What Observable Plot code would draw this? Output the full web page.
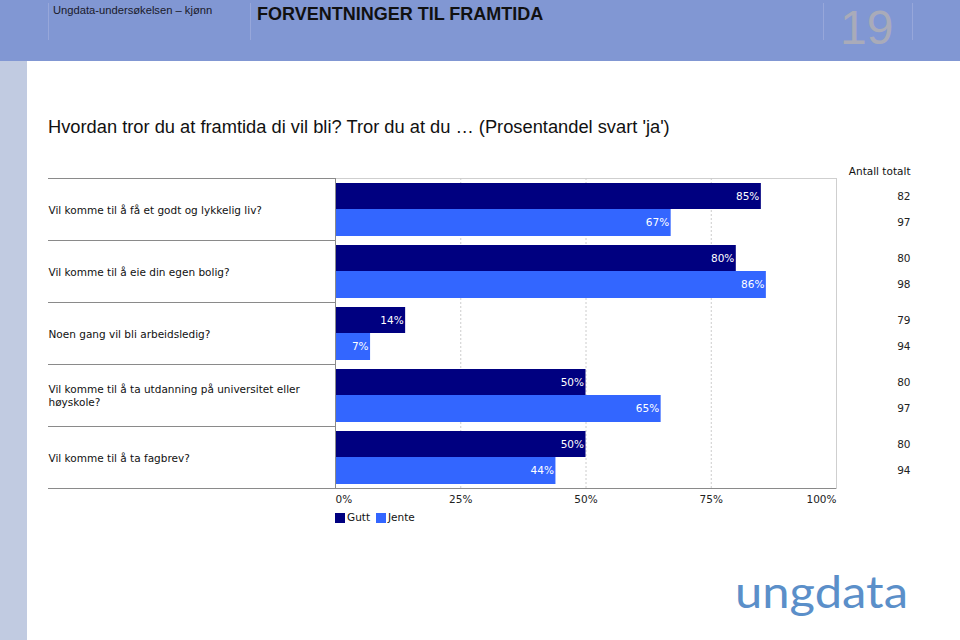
<!DOCTYPE html>
<html>
<head>
<meta charset="utf-8">
<script src="https://cdn.jsdelivr.net/npm/d3@7"></script>
<script src="https://cdn.jsdelivr.net/npm/@observablehq/plot@0.6"></script>
<style>
  html, body { margin: 0; padding: 0; background: #fff; }
  #page { position: relative; width: 960px; height: 640px; overflow: hidden; background: #fff; font-family: "Liberation Sans", Arial, sans-serif; }
  .abs { position: absolute; white-space: nowrap; }
  #header { position: absolute; left: 0; top: 0; width: 960px; height: 61px; background: #8197d3; }
  #strip { position: absolute; left: 0; top: 61px; width: 27px; height: 579px; background: #c1cbe1; }
  .vline { position: absolute; top: 3px; width: 1px; height: 37px; background: #97a7da; }
  #chart { position: absolute; left: 0; top: 140px; }
  .leg { font-family: "DejaVu Sans", Verdana, sans-serif; font-size: 10.5px; color: #111; line-height: 11px; }
  .sw { position: absolute; width: 10px; height: 10px; }
</style>
</head>
<body>
<div id="page">
  <div id="header"></div>
  <div id="strip"></div>
  <div class="vline" style="left:48px"></div>
  <div class="vline" style="left:250px"></div>
  <div class="vline" style="left:823px"></div>
  <div class="vline" style="left:912px"></div>
  <div class="abs" style="left:53px; top:5px; font-size:11.2px; line-height:11.2px; color:#1a1a2a;">Ungdata-undersøkelsen – kjønn</div>
  <div class="abs" style="left:257px; top:5px; font-size:18px; line-height:18px; font-weight:bold; color:#111;">FORVENTNINGER TIL FRAMTIDA</div>
  <div class="abs" style="left:840px; top:1px; font-size:48px; line-height:53.6px; color:#a9abb9;">19</div>
  <div class="abs" style="left:48px; top:118px; font-size:18.3px; line-height:18.3px; color:#111;">Hvordan tror du at framtida di vil bli? Tror du at du … (Prosentandel svart 'ja')</div>
  <div id="chart"></div>
  <div class="sw" style="left:335px; top:513px; background:#000080;"></div>
  <div class="abs leg" style="left:347px; top:512px;">Gutt</div>
  <div class="sw" style="left:376px; top:513px; background:#3366ff;"></div>
  <div class="abs leg" style="left:388px; top:512px;">Jente</div>
  <svg class="abs" style="left:0; top:0;" width="960" height="640" pointer-events="none">
    <text x="735" y="608" font-family="Lato, 'Open Sans', sans-serif" font-weight="400" font-size="44" fill="#5b8fc9" textLength="173" lengthAdjust="spacingAndGlyphs">ungdata</text>
  </svg>
</div>
<script>
const questions = [
  "Vil komme til å få et godt og lykkelig liv?",
  "Vil komme til å eie din egen bolig?",
  "Noen gang vil bli arbeidsledig?",
  "Vil komme til å ta utdanning på universitet eller\nhøyskole?",
  "Vil komme til å ta fagbrev?"
];
const gutt = [85, 80, 14, 50, 50];
const jente = [67, 86, 7, 65, 44];
const antallGutt = [82, 80, 79, 80, 80];
const antallJente = [97, 98, 94, 97, 94];
const xTicks = [0, 25, 50, 75, 100];
const countHeader = ["Antall totalt"];

const rows = questions.map((q, i) => ({
  q, gutt: gutt[i], jente: jente[i], nG: antallGutt[i], nJ: antallJente[i]
}));
const lastQ = [questions[questions.length - 1]];
const fmt = d => d + "%";

const chart = Plot.plot({
  width: 960,
  height: 378,
  marginLeft: 335,
  marginRight: 124,
  marginTop: 38,
  marginBottom: 30,
  style: { fontFamily: "'DejaVu Sans', Verdana, sans-serif", fontSize: "10.5px", color: "#111", background: "transparent", overflow: "visible" },
  x: { domain: [0, 100], label: null },
  y: { type: "band", domain: questions, padding: 0, axis: null, label: null },
  marks: [
    Plot.frame({ stroke: "#cfcfcf" }),
    Plot.ruleX(xTicks.filter(d => d > 0 && d < 100), { stroke: "#cccccc", strokeDasharray: "2,2" }),
    Plot.barX(rows, { x: "gutt", y: "q", fill: "#000080", insetTop: 5, insetBottom: 31 }),
    Plot.barX(rows, { x: "jente", y: "q", fill: "#3366ff", insetTop: 31, insetBottom: 4 }),
    Plot.ruleX([0], { stroke: "#8a8a8a" }),
    Plot.ruleY(rows, { y: "q", dy: -31, stroke: "#8a8a8a", insetLeft: -287, insetRight: 501 }),
    Plot.ruleY(lastQ, { y: d => d, dy: 31, stroke: "#8a8a8a", insetLeft: -287 }),
    Plot.text(rows, { y: "q", text: "q", frameAnchor: "left", dx: -287, textAnchor: "start", lineAnchor: "middle", fill: "#111", lineHeight: 1.25 }),
    Plot.text(rows, { x: "gutt", y: "q", text: d => fmt(d.gutt), dy: -13, dx: -2, textAnchor: "end", fill: "#ffffff" }),
    Plot.text(rows, { x: "jente", y: "q", text: d => fmt(d.jente), dy: 13, dx: -2, textAnchor: "end", fill: "#ffffff" }),
    Plot.text(rows, { y: "q", text: "nG", frameAnchor: "right", dx: 74, dy: -13, textAnchor: "end", fill: "#222" }),
    Plot.text(rows, { y: "q", text: "nJ", frameAnchor: "right", dx: 74, dy: 13, textAnchor: "end", fill: "#222" }),
    Plot.text(countHeader, { frameAnchor: "top-right", dx: 74, dy: -11, textAnchor: "end", fill: "#111" }),
    Plot.axisX(xTicks.filter(d => d === 0), { tickFormat: fmt, tickSize: 0, tickPadding: 7, textAnchor: "start", fill: "#222", label: null }),
    Plot.axisX(xTicks.filter(d => d > 0 && d < 100), { tickFormat: fmt, tickSize: 0, tickPadding: 7, fill: "#222", label: null }),
    Plot.axisX(xTicks.filter(d => d === 100), { tickFormat: fmt, tickSize: 0, tickPadding: 7, textAnchor: "end", fill: "#222", label: null })
  ]
});
document.getElementById("chart").appendChild(chart);
</script>
</body>
</html>
